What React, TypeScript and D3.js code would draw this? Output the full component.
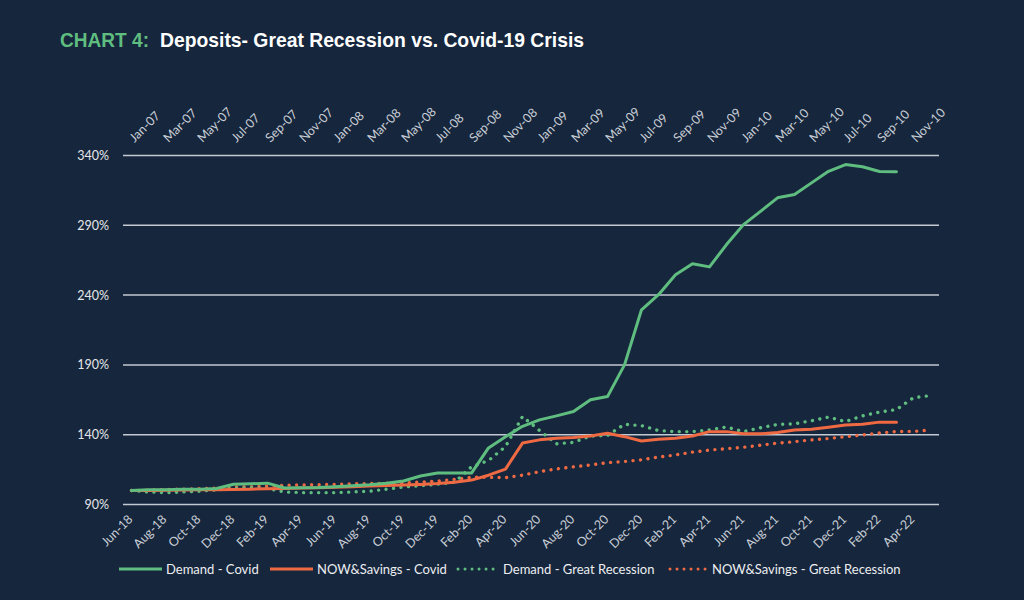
import React from "react";
import * as d3 from "d3";

// ---------- DATA ----------
const covidMonths = [
  "Jun-18","Jul-18","Aug-18","Sep-18","Oct-18","Nov-18","Dec-18","Jan-19","Feb-19","Mar-19","Apr-19","May-19",
  "Jun-19","Jul-19","Aug-19","Sep-19","Oct-19","Nov-19","Dec-19","Jan-20","Feb-20","Mar-20","Apr-20","May-20",
  "Jun-20","Jul-20","Aug-20","Sep-20","Oct-20","Nov-20","Dec-20","Jan-21","Feb-21","Mar-21","Apr-21","May-21",
  "Jun-21","Jul-21","Aug-21","Sep-21","Oct-21","Nov-21","Dec-21","Jan-22","Feb-22","Mar-22","Apr-22","May-22",
];
const recessionMonths = [
  "Jan-07","Feb-07","Mar-07","Apr-07","May-07","Jun-07","Jul-07","Aug-07","Sep-07","Oct-07","Nov-07","Dec-07",
  "Jan-08","Feb-08","Mar-08","Apr-08","May-08","Jun-08","Jul-08","Aug-08","Sep-08","Oct-08","Nov-08","Dec-08",
  "Jan-09","Feb-09","Mar-09","Apr-09","May-09","Jun-09","Jul-09","Aug-09","Sep-09","Oct-09","Nov-09","Dec-09",
  "Jan-10","Feb-10","Mar-10","Apr-10","May-10","Jun-10","Jul-10","Aug-10","Sep-10","Oct-10","Nov-10","Dec-10",
];
const bottomTickLabels = [
  "Jun-18","Aug-18","Oct-18","Dec-18","Feb-19","Apr-19","Jun-19","Aug-19","Oct-19","Dec-19","Feb-20","Apr-20",
  "Jun-20","Aug-20","Oct-20","Dec-20","Feb-21","Apr-21","Jun-21","Aug-21","Oct-21","Dec-21","Feb-22","Apr-22",
];
const topTickLabels = [
  "Jan-07","Mar-07","May-07","Jul-07","Sep-07","Nov-07","Jan-08","Mar-08","May-08","Jul-08","Sep-08","Nov-08",
  "Jan-09","Mar-09","May-09","Jul-09","Sep-09","Nov-09","Jan-10","Mar-10","May-10","Jul-10","Sep-10","Nov-10",
];
const yTicks = [90, 140, 190, 240, 290, 340];

// Covid (Jun-18 .. Mar-22), % of starting level
const demandCovid = [
  100, 100.5, 100.5, 101, 101, 101.5, 104.5, 104.8, 105.3, 101.8, 102, 102.2,
  102.8, 103.5, 104.2, 105.3, 106.8, 110.4, 112.5, 112.5, 112.5, 130.5, 138.5, 146,
  150.6, 153.5, 156.6, 165, 167.3, 190, 229.5, 240.3, 254.6, 262.5, 260.2, 276.2,
  290.5, 300, 309.7, 312, 320.4, 328.7, 333.5, 331.9, 328.5, 328.3,
];
const nowSavingsCovid = [
  100, 100, 100.2, 100.4, 100.5, 100.6, 100.8, 101, 101.2, 101.5, 101.8, 102,
  102.4, 102.8, 103.2, 103.6, 104, 104.4, 105, 106, 107.5, 111, 115.3, 134,
  136.3, 137.4, 138, 139.1, 141, 138.6, 135.5, 136.8, 137.5, 139.1, 142.2, 142.2,
  140.6, 140.6, 141.5, 143.4, 143.9, 145.4, 147, 147.5, 149, 149,
];
// Great Recession (Jan-07 .. Dec-10)
const demandRecession = [
  100, 99, 98.5, 99, 99.5, 100.5, 101.5, 102, 101.5, 99, 98.5, 98.5,
  98.5, 99, 99.5, 101, 102.5, 103.5, 104.5, 106, 117, 121.5, 131.5, 153,
  143, 133.5, 134.5, 139, 139.5, 147.5, 146.5, 143, 142.2, 142.2, 143.5, 145.5,
  142.2, 145, 147.3, 147.8, 150, 152.6, 149.4, 153.5, 156.2, 158, 166.5, 168,
];
const nowSavingsRecession = [
  100, 100.3, 100.7, 101, 101.3, 101.7, 102.5, 102.8, 103.2, 103.8, 104, 104.2,
  104.4, 104.8, 105, 105.2, 105.5, 106, 106.8, 108, 109.5, 109.5, 109.2, 111,
  113.5, 115.5, 117, 118.3, 120, 120.8, 122, 124, 125.5, 127.5, 129, 130,
  131, 132.5, 134, 135, 136.3, 137.3, 138.5, 139.8, 141.2, 142.3, 142.4, 143.3,
];

// ---------- STYLE ----------
const BG = "#16263c";
const GREEN = "#5fbd80";
const ORANGE = "#ef6a43";
const GRID = "#c3c9d3";
const AXIS_TEXT = "#c9ced7";
const FONT = "Lato, Carlito, Calibri, sans-serif";
const DOT_DASH = "0.01 7.5";

export default function App() {
  const W = 1024;
  const H = 600;
  const plotLeft = 123;
  const plotRight = 939;

  const xBottom = d3.scalePoint<string>().domain(covidMonths).range([plotLeft, plotRight]).padding(0.5);
  const xTop = d3.scalePoint<string>().domain(recessionMonths).range([plotLeft, plotRight]).padding(0.5);
  const y = d3.scaleLinear().domain([90, 340]).range([504.5, 155.5]);

  const covidLine = d3
    .line<number>()
    .x((_, i) => xBottom(covidMonths[i]) as number)
    .y((d) => y(d));
  const recLine = d3
    .line<number>()
    .x((_, i) => xTop(recessionMonths[i]) as number)
    .y((d) => y(d));

  const legendY = 569;
  const legendItems = [
    { label: "Demand - Covid", color: GREEN, dotted: false, x1: 119, x2: 162, tx: 166 },
    { label: "NOW&Savings - Covid", color: ORANGE, dotted: false, x1: 270, x2: 313, tx: 317 },
    { label: "Demand - Great Recession", color: GREEN, dotted: true, x1: 458, x2: 499, tx: 503 },
    { label: "NOW&Savings - Great Recession", color: ORANGE, dotted: true, x1: 670, x2: 708, tx: 712 },
  ];

  return (
    <div style={{ position: "fixed", left: 0, top: 0 }}>
      <svg width={W} height={H} viewBox={`0 0 ${W} ${H}`} style={{ display: "block" }}>
        <rect x={0} y={0} width={W} height={H} fill={BG} />

        {/* Title */}
        <text
          x={60}
          y={47}
          fill={GREEN}
          fontFamily="'Liberation Sans', Arial, sans-serif"
          fontWeight="bold"
          fontSize={21}
          textLength={89}
          lengthAdjust="spacingAndGlyphs"
        >
          CHART 4:
        </text>
        <text
          x={160}
          y={47}
          fill="#ffffff"
          fontFamily="'Liberation Sans', Arial, sans-serif"
          fontWeight="bold"
          fontSize={21}
          textLength={424}
          lengthAdjust="spacingAndGlyphs"
        >
          Deposits- Great Recession vs. Covid-19 Crisis
        </text>

        {/* Gridlines + y labels */}
        {yTicks.map((t) => (
          <g key={t}>
            <line x1={plotLeft} x2={plotRight} y1={y(t)} y2={y(t)} stroke={GRID} strokeWidth={1.5} />
            <text
              x={109}
              y={y(t) + 4.5}
              textAnchor="end"
              fill="#e4e6ea"
              fontFamily={FONT}
              fontSize={12.5}
            >
              {`${t}%`}
            </text>
          </g>
        ))}

        {/* Bottom axis labels */}
        {bottomTickLabels.map((lab) => {
          const px = (xBottom(lab) as number) + 2;
          const py = 520;
          return (
            <text
              key={lab}
              x={px}
              y={py}
              transform={`rotate(-45 ${px} ${py})`}
              textAnchor="end"
              fill={AXIS_TEXT}
              fontFamily={FONT}
              fontSize={12.5}
            >
              {lab}
            </text>
          );
        })}

        {/* Top axis labels */}
        {topTickLabels.map((lab) => {
          const px = (xTop(lab) as number) + 3;
          const py = 143;
          return (
            <text
              key={lab}
              x={px}
              y={py}
              transform={`rotate(-45 ${px} ${py})`}
              textAnchor="start"
              fill={AXIS_TEXT}
              fontFamily={FONT}
              fontSize={12.5}
            >
              {lab}
            </text>
          );
        })}

        {/* Series */}
        <path d={recLine(nowSavingsRecession) || ""} fill="none" stroke={ORANGE} strokeWidth={3.4} strokeLinecap="round" strokeDasharray={DOT_DASH} />
        <path d={recLine(demandRecession) || ""} fill="none" stroke={GREEN} strokeWidth={3.4} strokeLinecap="round" strokeDasharray={DOT_DASH} />
        <path d={covidLine(nowSavingsCovid) || ""} fill="none" stroke={ORANGE} strokeWidth={3} strokeLinejoin="round" strokeLinecap="round" />
        <path d={covidLine(demandCovid) || ""} fill="none" stroke={GREEN} strokeWidth={3} strokeLinejoin="round" strokeLinecap="round" />

        {/* Legend */}
        {legendItems.map((it) => (
          <g key={it.label}>
            <line
              x1={it.x1}
              x2={it.x2}
              y1={legendY}
              y2={legendY}
              stroke={it.color}
              strokeWidth={3}
              strokeLinecap={it.dotted ? "round" : "butt"}
              strokeDasharray={it.dotted ? "0.01 7" : undefined}
            />
            <text x={it.tx} y={legendY + 4.5} fill="#eceef1" fontFamily={FONT} fontSize={13}>
              {it.label}
            </text>
          </g>
        ))}
      </svg>
    </div>
  );
}
